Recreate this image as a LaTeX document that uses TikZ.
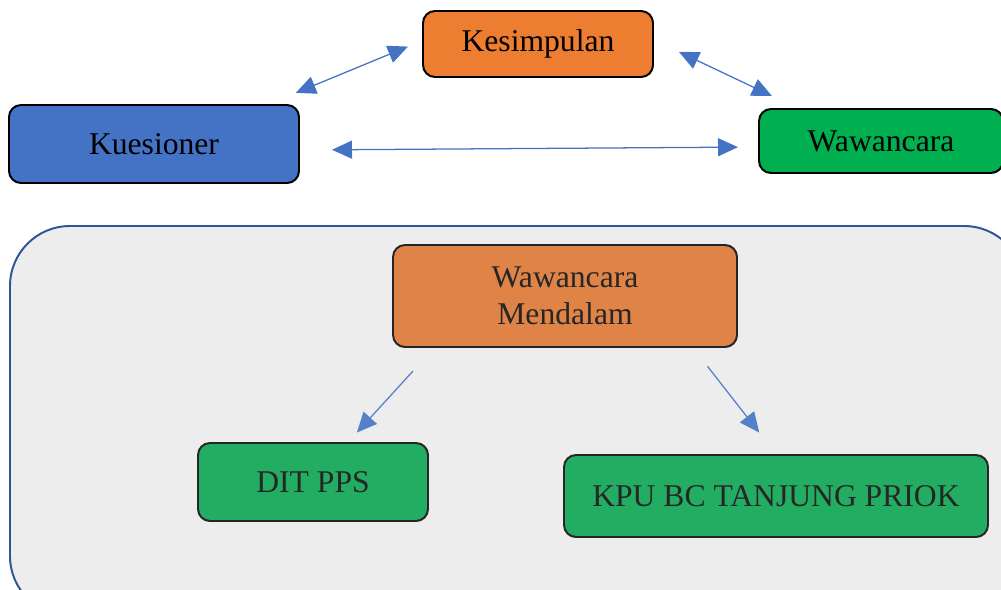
\documentclass[tikz,border=0pt]{standalone}
\usepackage{fontspec}
\setmainfont{Liberation Serif}
\usetikzlibrary{arrows.meta}
\definecolor{kesimorange}{HTML}{ED7D31}
\definecolor{kuesblue}{HTML}{4472C4}
\definecolor{wawagreen}{HTML}{00B050}
\definecolor{mendorange}{HTML}{DF8346}
\definecolor{subgreen}{HTML}{22AD63}
\definecolor{panelgray}{HTML}{EDEDED}
\definecolor{panelblue}{HTML}{2F5597}
\definecolor{darktext}{HTML}{262626}
\begin{document}
\begin{tikzpicture}[
  box/.style={draw=black, line width=1.4pt, rounded corners=0.3cm, font=\fontsize{22.5}{26}\selectfont, align=center},
  subbox/.style={box, draw=darktext, text=darktext},
  link/.style={draw, kuesblue, line width=0.9pt, {Triangle[length=0.5cm,width=0.45cm]}-{Triangle[length=0.5cm,width=0.45cm]}},
  flow/.style={draw, kuesblue!90!white, line width=0.9pt, -{Triangle[length=0.5cm,width=0.45cm]}}
]
\useasboundingbox (0,0) rectangle (25.025,-14.75);
\fill[panelgray, draw=panelblue, line width=1.4pt, rounded corners=1.5cm] (0.25,-5.65) rectangle (25.6,-15.4);

\node[box, fill=kesimorange, minimum width=5.75cm, minimum height=1.65cm] (kesim) at (13.45,-1.1) {Kesimpulan};
\node[box, fill=kuesblue, minimum width=7.25cm, minimum height=1.95cm] (kues) at (3.85,-3.6) {Kuesioner};
\node[box, fill=wawagreen, minimum width=6.1cm, minimum height=1.6cm] (wawa) at (22.025,-3.525) {Wawancara};

\node[subbox, fill=mendorange, minimum width=8.6cm, minimum height=2.55cm] (mend) at (14.125,-7.4) {Wawancara\\[0.02cm]Mendalam};
\node[subbox, fill=subgreen, minimum width=5.75cm, minimum height=1.95cm] (dit) at (7.825,-12.05) {DIT PPS};
\node[subbox, fill=subgreen, minimum width=10.6cm, minimum height=2.05cm] (kpu) at (19.4,-12.4) {KPU BC TANJUNG PRIOK};

\path[link, shorten <=0.73cm, shorten >=0.38cm] ([xshift=-0.78cm]kues.north east) -- ([yshift=0.08cm]kesim.west);
\path[link, shorten <=0.69cm, shorten >=0.7cm] ([yshift=0.1cm]kesim.east) -- ([xshift=0.98cm]wawa.north west);
\path[link, shorten <=0.8cm, shorten >=0.5cm] ([yshift=-0.15cm]kues.east) -- ([yshift=-0.15cm]wawa.west);

\path[flow, shorten <=0.78cm, shorten >=0.32cm] ([xshift=1.05cm]mend.south west) -- ([xshift=0.88cm]dit.north);
\path[flow, shorten <=0.58cm, shorten >=0.68cm] ([xshift=-1.12cm]mend.south east) -- (kpu.north);
\end{tikzpicture}
\end{document}
